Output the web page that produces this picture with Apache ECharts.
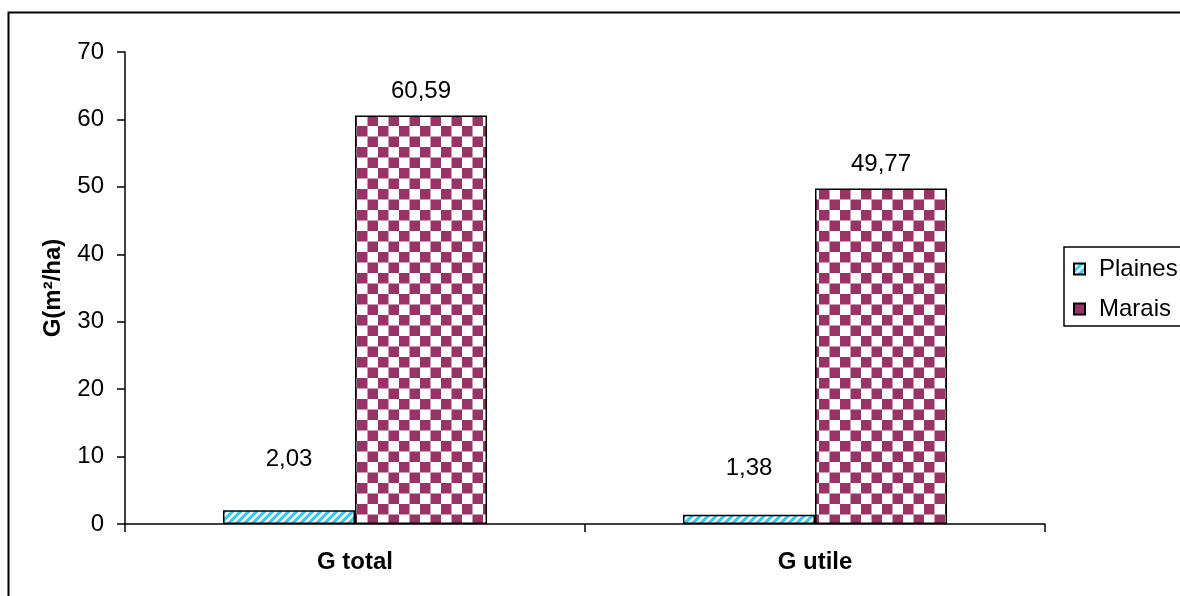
<!DOCTYPE html>
<html>
<head>
<meta charset="utf-8">
<script src="https://cdn.jsdelivr.net/npm/echarts@6/dist/echarts.min.js"></script>
<style>
  html, body { margin: 0; padding: 0; background: #fff; }
  #chart { width: 1180px; height: 596px; }
</style>
</head>
<body>
<div id="chart"></div>
<script>
// Basal area per hectare, two stands
const categories = ['G total', 'G utile'];
const plainesValues = [2.03, 1.38];
const maraisValues = [60.59, 49.77];
const seriesNames = ['Plaines', 'Marais'];
const axisName = 'G(m²/ha)';
const yMin = 0, yMax = 70, yStep = 10;

// Lift of the Plaines value labels above their bars (px)
const plainesLabelLift = [39, 34];

const FONT = "'Liberation Sans', Arial, sans-serif";
const FS = 24;

// Cyan diagonal hatch
function makeStripes() {
  const c = document.createElement('canvas');
  c.width = 8; c.height = 8;
  const g = c.getContext('2d');
  g.fillStyle = '#fff';
  g.fillRect(0, 0, 8, 8);
  g.strokeStyle = '#33ccff';
  g.lineWidth = 3.2;
  g.beginPath();
  for (let k = -8; k <= 16; k += 8) {
    g.moveTo(k - 1, 9);
    g.lineTo(k + 9, -1);
  }
  g.stroke();
  return c;
}

// Plum checkerboard
function makeChecker() {
  const s = 10.5;
  const c = document.createElement('canvas');
  c.width = 21; c.height = 21;
  const g = c.getContext('2d');
  g.fillStyle = '#fff';
  g.fillRect(0, 0, 21, 21);
  g.fillStyle = '#993366';
  g.fillRect(0, 0, s, s);
  g.fillRect(s, s, s, s);
  return c;
}

const stripeFill = { image: makeStripes(), repeat: 'repeat' };
const checkerFill = { image: makeChecker(), repeat: 'repeat' };

const fmt = v => v.toFixed(2).replace('.', ',');

const labelStyle = {
  show: true,
  position: 'top',
  color: '#000',
  fontFamily: FONT,
  fontSize: FS,
  formatter: p => fmt(p.value)
};

const chart = echarts.init(document.getElementById('chart'), null, { renderer: 'canvas' });

chart.setOption({
  animation: false,
  backgroundColor: '#fff',
  textStyle: { fontFamily: FONT },
  graphic: [{
    type: 'rect',
    left: 6, top: 10,
    shape: { x: 0, y: 0, width: 1200, height: 620 },
    style: { fill: 'none', stroke: '#000', lineWidth: 2 },
    z: -1,
    silent: true
  }],
  grid: { left: 125, right: 135, top: 52, bottom: 72, containLabel: false },
  legend: {
    orient: 'vertical',
    left: 1064,
    top: 247,
    padding: [10, 30, 5, 9],
    borderColor: '#000',
    borderWidth: 1.5,
    itemWidth: 11,
    itemHeight: 11,
    itemGap: 16,
    icon: 'rect',
    textStyle: { fontFamily: FONT, fontSize: FS, color: '#000', padding: [0, 0, 0, 9] },
    data: seriesNames
  },
  xAxis: {
    type: 'category',
    data: categories,
    axisLine: { lineStyle: { color: '#000', width: 1.5 } },
    axisTick: { show: true, length: 8, lineStyle: { color: '#000', width: 1.5 } },
    axisLabel: { color: '#000', fontFamily: FONT, fontSize: FS, fontWeight: 'bold', margin: 26 }
  },
  yAxis: {
    type: 'value',
    min: yMin, max: yMax, interval: yStep,
    name: axisName,
    nameLocation: 'middle',
    nameRotate: 90,
    nameGap: 60,
    nameTextStyle: { color: '#000', fontFamily: FONT, fontSize: FS, fontWeight: 'bold' },
    axisLine: { show: true, lineStyle: { color: '#000', width: 1.5 } },
    axisTick: { show: true, length: 8, lineStyle: { color: '#000', width: 1.5 } },
    axisLabel: { color: '#000', fontFamily: FONT, fontSize: FS, margin: 21 },
    splitLine: { show: false }
  },
  series: [
    {
      name: seriesNames[0],
      type: 'bar',
      barGap: '0%',
      barCategoryGap: '42.6%',
      itemStyle: { color: stripeFill, borderColor: '#000', borderWidth: 1.5 },
      label: labelStyle,
      data: plainesValues.map((v, i) => ({ value: v, label: { distance: plainesLabelLift[i] } }))
    },
    {
      name: seriesNames[1],
      type: 'bar',
      itemStyle: { color: checkerFill, borderColor: '#000', borderWidth: 1.5 },
      label: Object.assign({}, labelStyle, { distance: 12 }),
      data: maraisValues
    }
  ]
});
</script>
</body>
</html>
